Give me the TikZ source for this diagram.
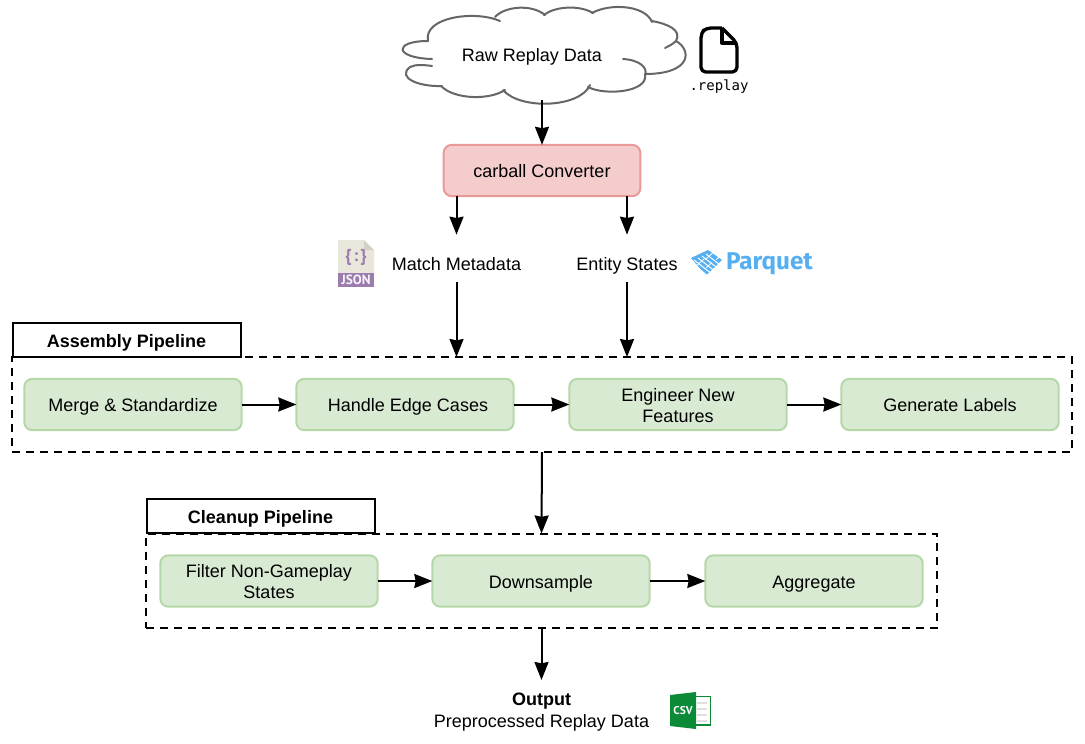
\documentclass[tikz,border=0pt]{standalone}
\usepackage{fontspec}
\setmainfont{Liberation Sans}
\newfontfamily\replayfont{DejaVu Sans Mono}
\newfontfamily\parquetfont{Fira Sans}
\newfontfamily\iconfont{PT Sans}
\usetikzlibrary{arrows.meta}
\definecolor{gfill}{HTML}{D9EAD3}
\definecolor{gline}{HTML}{B6D7A8}
\definecolor{rfill}{HTML}{F4CCCC}
\definecolor{rline}{HTML}{EA9999}
\definecolor{cloudline}{HTML}{666666}
\definecolor{pqblue}{HTML}{55AFF0}
\definecolor{jbeige}{HTML}{E9E7DB}
\definecolor{jfold}{HTML}{D3D1C4}
\definecolor{jpurple}{HTML}{9C7BAE}
\definecolor{csvgreen}{HTML}{0B8A38}
\tikzset{
  every node/.style={outer sep=0pt, inner sep=0pt, font=\fontsize{13.5}{15.75}\selectfont, align=center},
  textfix/.style={execute at begin node={\vrule width 0pt height 14.2pt depth 0pt\relax}, execute at end node={\vrule width 0pt height 0pt depth 3pt\relax}},
  stepbox/.style={textfix, draw=gline, fill=gfill, line width=1.5pt, rounded corners=6pt, minimum width=163pt, minimum height=38.5pt},
  convbox/.style={textfix, draw=rline, fill=rfill, line width=1.5pt, rounded corners=6pt, minimum width=147.5pt, minimum height=38.5pt},
  pipebox/.style={draw=black, line width=1.5pt, dash pattern=on 6pt off 4.5pt},
  titlebox/.style={textfix, draw=black, fill=white, line width=1.5pt, minimum width=171pt, minimum height=25pt, font=\fontsize{13.5}{15.75}\selectfont\bfseries},
  textlabel/.style={textfix, minimum height=28.5pt},
  flow/.style={draw=black, line width=1.5pt, -{Stealth[length=13.5pt,width=10.5pt,inset=1pt]}},
  cloudarc/.style={draw=cloudline, line width=1.5pt, line cap=round},
}
\begin{document}
\begin{tikzpicture}[x=0.75pt,y=-0.75pt]
\useasboundingbox (0,0) rectangle (1085,743);
% cloud outline
\draw[cloudarc] (432,59) .. controls (394,58) and (393,41) .. (428,41);
\draw[cloudarc] (428,41) .. controls (423,17) and (475,10) .. (500,21);
\draw[cloudarc] (495,17) .. controls (505,6) and (532,4) .. (545,15);
\draw[cloudarc] (544,15) .. controls (555,6) and (580,5) .. (593,13);
\draw[cloudarc] (592,13) .. controls (610,3) and (645,5) .. (652,22);
\draw[cloudarc] (652,21) .. controls (668,24) and (682,30) .. (676,41) .. controls (673,44) and (669,46) .. (665,48);
\draw[cloudarc] (676,41) .. controls (692,50) and (692,74) .. (645,74);
\draw[cloudarc] (623,59) .. controls (640,60) and (648,68) .. (645,75) .. controls (648,92) and (605,96) .. (588,87);
\draw[cloudarc] (590,85) .. controls (580,108) and (520,110) .. (503,90);
\draw[cloudarc] (505,90) .. controls (490,100) and (455,100) .. (441,86);
\draw[cloudarc] (442,86) .. controls (420,87) and (396,78) .. (410,67) .. controls (416,64) and (425,65) .. (432,66);
\node[textfix, minimum width=180pt, minimum height=69pt] (cloud) at (532,54) {Raw Replay Data};

% .replay file icon
\draw[black, line width=2.5pt, line join=round, rounded corners=3.5pt] (722,28) -- (706,28) -- (701,33) -- (701,72) -- (737,72) -- (737,43) [sharp corners] -- (722,28);
\draw[black, line width=2.5pt, line join=round] (722,28) -- (722,43) -- (737,43);
\node[font=\fontsize{10.5}{12}\replayfont] (replay) at (719,87) {.replay};

% converter
\node[convbox] (conv) at (542,170.5) {carball Converter};

% intermediate labels
\node[textlabel] (meta) at (456.5,263) {Match Metadata};
\node[textlabel] (states) at (627,263) {Entity States};

% JSON icon
\fill[jbeige] (338,240) -- (364,240) -- (374,250) -- (374,273) -- (338,273) -- cycle;
\fill[jfold] (364,240) -- (374,250) -- (364,250) -- cycle;
\fill[jpurple] (338,272.5) rectangle (374,287);
\node[font=\fontsize{13}{14}\iconfont\bfseries, text=jpurple] (jsonbrace) at (356,257) {\{\kern1.5pt:\kern1.5pt\}};
\node[font=\fontsize{10}{11}\iconfont\bfseries, text=white!92!jpurple] (jsonlabel) at (356,280) {JSON};

% Parquet icon
\begin{scope}
\fill[pqblue] (691,258) -- (708,250) -- (722,260) -- (706,275.5) -- cycle;
\foreach \d in {0,4,8,12,16}
  \draw[white, line width=0.75pt] (690+\d,262-\d*0.5) -- (708+\d,276-\d*0.5);
\foreach \d in {0,9}
  \draw[white, line width=0.6pt] (696+\d,266-\d*0.7) -- (704+\d,259-\d*0.7);
\foreach \d in {3,13}
  \draw[white, line width=0.6pt] (703+\d,270-\d*0.8) -- (709+\d,265-\d*0.8);
\end{scope}
\node[font=\fontsize{18.2}{20}\parquetfont\bfseries, text=pqblue, anchor=west] (parquet) at (726,263.5) {Parquet};

% assembly pipeline
\node[pipebox, minimum width=795pt, minimum height=71.25pt] (asm) at (542,404.5) {};
\node[titlebox] (asmtitle) at (126.5,340) {Assembly Pipeline};
\node[stepbox] (merge) at (133,404.5) {Merge \& Standardize};
\node[stepbox] (edge) at (405,404.5) {\hspace*{4.5pt}Handle Edge Cases};
\node[stepbox, label={[textfix, yshift=-2.25pt]center:{Engineer New\\Features}}] (feat) at (678,404.5) {};
\node[stepbox] (labels) at (950,404.5) {Generate Labels};

% cleanup pipeline
\node[pipebox, minimum width=593.25pt, minimum height=70.5pt] (clean) at (541.5,580.5) {};
\node[titlebox] (cleantitle) at (260.5,516) {Cleanup Pipeline};
\node[stepbox, label={[textfix, yshift=-1.5pt]center:{Filter Non-Gameplay\\States}}] (filt) at (269,581) {};
\node[stepbox] (down) at (541,581) {Downsample};
\node[stepbox] (agg) at (814,581) {Aggregate};

% output
\node[textfix, minimum width=225pt, minimum height=48pt, font=\fontsize{13.5}{16.5}\selectfont] (out) at (541.5,712) {\textbf{Output}\\Preprocessed Replay Data};

% CSV icon
\draw[csvgreen, line width=0.9pt, fill=white] (694,696.5) rectangle (710.5,725);
\foreach \yy in {703,709,715,721}
  \draw[black!12, line width=1.8pt] (697,\yy) -- (707,\yy);
\fill[csvgreen] (670,695) -- (696,692) -- (696,729) -- (670,726) -- cycle;
\node[font=\fontsize{8.5}{9}\iconfont\bfseries, text=white] (csv) at (683,711) {CSV};

% connectors
\draw[flow] (cloud.south -| conv.north) -- (conv.north);
\draw[flow, shorten >=7pt] (conv.south -| meta.north) -- (meta.north);
\draw[flow, shorten >=7pt] (conv.south -| states.north) -- (states.north);
\draw[flow] (meta.south) -- (asm.north -| meta.south);
\draw[flow] (states.south) -- (asm.north -| states.south);
\draw[flow] (merge.east) -- (edge.west);
\draw[flow] (edge.east) -- (feat.west);
\draw[flow] (feat.east) -- (labels.west);
\draw[flow] (asm.south) -- (clean.north);
\draw[flow] (filt.east) -- (down.west);
\draw[flow] (down.east) -- (agg.west);
\draw[flow] (clean.south) -- (out.north);
\end{tikzpicture}
\end{document}
